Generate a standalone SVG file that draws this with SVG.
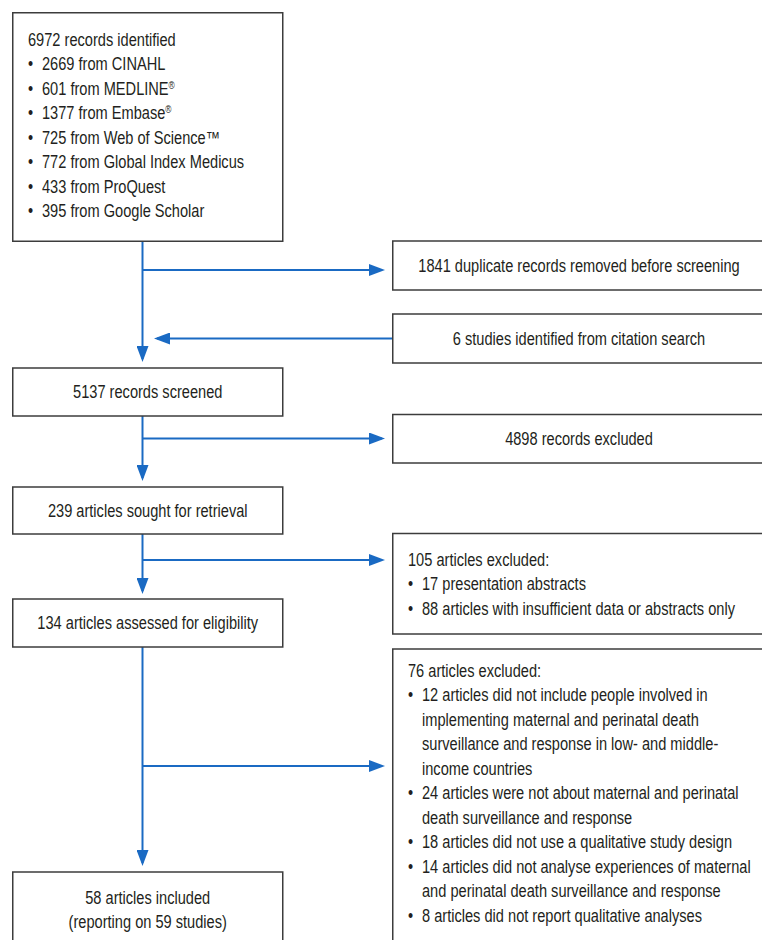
<svg xmlns="http://www.w3.org/2000/svg" width="762" height="940" viewBox="0 0 762 940">
<defs>
<style>
.box{fill:#fff;stroke:#3c3c3c;stroke-width:1.5}
.t{font-family:"Liberation Sans",Arial,sans-serif;font-size:17.5px;fill:#231f20}
.c{text-anchor:middle}
.con{stroke:#1a6ac3;stroke-width:2;fill:none}
.sup{font-size:10px}
</style>
<marker id="ah" markerUnits="userSpaceOnUse" markerWidth="16" markerHeight="12" refX="13" refY="6" orient="auto"><path d="M0,0 L16,6 L0,12 z" fill="#1a6ac3"/></marker>
</defs>
<rect width="762" height="940" fill="#fff"/>

<g id="connectors">
<line class="con" x1="142.5" y1="241" x2="142.5" y2="359" marker-end="url(#ah)"/>
<line class="con" x1="142.5" y1="270" x2="382" y2="270" marker-end="url(#ah)"/>
<line class="con" x1="392" y1="338.5" x2="157" y2="338.5" marker-end="url(#ah)"/>
<line class="con" x1="142.5" y1="416" x2="142.5" y2="478" marker-end="url(#ah)"/>
<line class="con" x1="142.5" y1="438.5" x2="382" y2="438.5" marker-end="url(#ah)"/>
<line class="con" x1="142.5" y1="534" x2="142.5" y2="591" marker-end="url(#ah)"/>
<line class="con" x1="142.5" y1="560" x2="382" y2="560" marker-end="url(#ah)"/>
<line class="con" x1="142.5" y1="647" x2="142.5" y2="863" marker-end="url(#ah)"/>
<line class="con" x1="142.5" y1="766" x2="382" y2="766" marker-end="url(#ah)"/>
</g>

<g id="identified">
<rect class="box" x="12.75" y="12.75" width="270" height="228.5"/>
<g class="t" transform="matrix(0.835 0 0 1 4.62 0)">
<text x="28" y="46">6972 records identified</text>
<text x="28" y="70.5">•</text>
<text x="28" y="95">•</text>
<text x="28" y="119.5">•</text>
<text x="28" y="144">•</text>
<text x="28" y="168.5">•</text>
<text x="28" y="193">•</text>
<text x="28" y="217.5">•</text>
</g>
<g class="t" transform="matrix(0.835 0 0 1 6.93 0)">
<text x="42" y="70.5">2669 from CINAHL</text>
<text x="42" y="95">601 from MEDLINE<tspan class="sup" dy="-6">®</tspan></text>
<text x="42" y="119.5">1377 from Embase<tspan class="sup" dy="-6">®</tspan></text>
<text x="42" y="144">725 from Web of Science™</text>
<text x="42" y="168.5">772 from Global Index Medicus</text>
<text x="42" y="193">433 from ProQuest</text>
<text x="42" y="217.5">395 from Google Scholar</text>
</g>
</g>

<g id="duplicates">
<rect class="box" x="392.75" y="241" width="380" height="49"/>
<text class="t c" x="579" y="272" transform="matrix(0.835 0 0 1 95.535 0)">1841 duplicate records removed before screening</text>
</g>

<g id="citation">
<rect class="box" x="392.75" y="314" width="380" height="49"/>
<text class="t c" x="579" y="345" transform="matrix(0.835 0 0 1 95.535 0)">6 studies identified from citation search</text>
</g>

<g id="screened">
<rect class="box" x="12.75" y="368" width="270" height="48"/>
<text class="t c" x="147.75" y="398.5" transform="matrix(0.835 0 0 1 24.379 0)">5137 records screened</text>
</g>

<g id="excluded1">
<rect class="box" x="392.75" y="414.5" width="380" height="48.5"/>
<text class="t c" x="579" y="445" transform="matrix(0.835 0 0 1 95.535 0)">4898 records excluded</text>
</g>

<g id="retrieval">
<rect class="box" x="12.75" y="487" width="270" height="47"/>
<text class="t c" x="147.75" y="517" transform="matrix(0.835 0 0 1 24.379 0)">239 articles sought for retrieval</text>
</g>

<g id="excluded2">
<rect class="box" x="392.75" y="533.5" width="380" height="100.5"/>
<g class="t" transform="matrix(0.835 0 0 1 67.32 0)">
<text x="408" y="566">105 articles excluded:</text>
<text x="408" y="590.5">•</text>
<text x="408" y="615">•</text>
</g>
<g class="t" transform="matrix(0.835 0 0 1 69.63 0)">
<text x="422" y="590.5">17 presentation abstracts</text>
<text x="422" y="615">88 articles with insufficient data or abstracts only</text>
</g>
</g>

<g id="eligibility">
<rect class="box" x="12.75" y="599" width="270" height="48"/>
<text class="t c" x="147.75" y="629.5" transform="matrix(0.835 0 0 1 24.379 0)">134 articles assessed for eligibility</text>
</g>

<g id="excluded3">
<rect class="box" x="392.75" y="649" width="380" height="300"/>
<g class="t" transform="matrix(0.835 0 0 1 67.32 0)">
<text x="408" y="677">76 articles excluded:</text>
<text x="408" y="701.5">•</text>
<text x="408" y="799.5">•</text>
<text x="408" y="848.5">•</text>
<text x="408" y="873">•</text>
<text x="408" y="922">•</text>
</g>
<g class="t" transform="matrix(0.835 0 0 1 69.63 0)">
<text x="422" y="701.5">12 articles did not include people involved in</text>
<text x="422" y="726">implementing maternal and perinatal death</text>
<text x="422" y="750.5">surveillance and response in low- and middle-</text>
<text x="422" y="775">income countries</text>
<text x="422" y="799.5">24 articles were not about maternal and perinatal</text>
<text x="422" y="824">death surveillance and response</text>
<text x="422" y="848.5">18 articles did not use a qualitative study design</text>
<text x="422" y="873">14 articles did not analyse experiences of maternal</text>
<text x="422" y="897.5">and perinatal death surveillance and response</text>
<text x="422" y="922">8 articles did not report qualitative analyses</text>
</g>
</g>

<g id="included">
<rect class="box" x="12.75" y="872" width="270" height="80"/>
<g class="t c" transform="matrix(0.835 0 0 1 24.379 0)">
<text x="147.75" y="904">58 articles included</text>
<text x="147.75" y="928.5">(reporting on 59 studies)</text>
</g>
</g>
</svg>
